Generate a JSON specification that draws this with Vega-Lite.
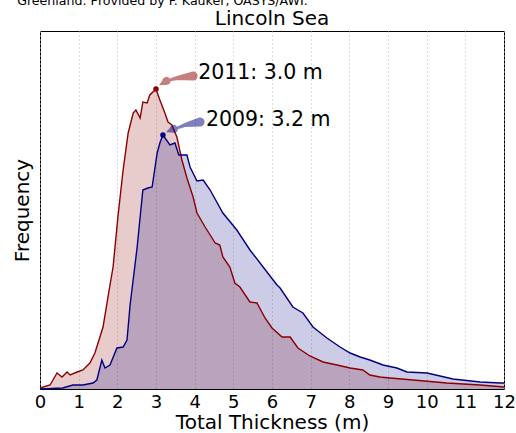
{
  "$schema": "https://vega.github.io/schema/vega-lite/v6.json",
  "width": 464,
  "height": 358,
  "autosize": "none",
  "padding": {"left": 40, "top": 31, "right": 12, "bottom": 44},
  "background": "white",
  "config": {
    "font": "DejaVu Sans",
    "view": {"stroke": "black", "strokeWidth": 1},
    "axis": {"labelOverlap": false, "labelFlush": false, "labelSeparation": 0}
  },
  "datasets": {
    "dist": [
      {"year": "2011", "thickness": 0, "freq": 1},
      {"year": "2011", "thickness": 0.26, "freq": 4},
      {"year": "2011", "thickness": 0.44, "freq": 16},
      {"year": "2011", "thickness": 0.57, "freq": 12},
      {"year": "2011", "thickness": 0.70, "freq": 17},
      {"year": "2011", "thickness": 0.78, "freq": 14},
      {"year": "2011", "thickness": 0.96, "freq": 17},
      {"year": "2011", "thickness": 1.11, "freq": 19},
      {"year": "2011", "thickness": 1.29, "freq": 26},
      {"year": "2011", "thickness": 1.42, "freq": 36},
      {"year": "2011", "thickness": 1.55, "freq": 52},
      {"year": "2011", "thickness": 1.63, "freq": 62},
      {"year": "2011", "thickness": 1.81, "freq": 104},
      {"year": "2011", "thickness": 1.89, "freq": 122},
      {"year": "2011", "thickness": 2.02, "freq": 174},
      {"year": "2011", "thickness": 2.15, "freq": 219},
      {"year": "2011", "thickness": 2.28, "freq": 256},
      {"year": "2011", "thickness": 2.41, "freq": 276},
      {"year": "2011", "thickness": 2.48, "freq": 279},
      {"year": "2011", "thickness": 2.59, "freq": 271},
      {"year": "2011", "thickness": 2.66, "freq": 287},
      {"year": "2011", "thickness": 2.77, "freq": 286},
      {"year": "2011", "thickness": 2.84, "freq": 294},
      {"year": "2011", "thickness": 3.0, "freq": 300},
      {"year": "2011", "thickness": 3.10, "freq": 289},
      {"year": "2011", "thickness": 3.23, "freq": 276},
      {"year": "2011", "thickness": 3.31, "freq": 267},
      {"year": "2011", "thickness": 3.41, "freq": 264},
      {"year": "2011", "thickness": 3.54, "freq": 252},
      {"year": "2011", "thickness": 3.67, "freq": 229},
      {"year": "2011", "thickness": 3.80, "freq": 211},
      {"year": "2011", "thickness": 3.96, "freq": 192},
      {"year": "2011", "thickness": 4.06, "freq": 176},
      {"year": "2011", "thickness": 4.27, "freq": 162},
      {"year": "2011", "thickness": 4.45, "freq": 151},
      {"year": "2011", "thickness": 4.53, "freq": 146},
      {"year": "2011", "thickness": 4.65, "freq": 144},
      {"year": "2011", "thickness": 4.73, "freq": 132},
      {"year": "2011", "thickness": 4.91, "freq": 122},
      {"year": "2011", "thickness": 5.04, "freq": 106},
      {"year": "2011", "thickness": 5.17, "freq": 102},
      {"year": "2011", "thickness": 5.43, "freq": 87},
      {"year": "2011", "thickness": 5.61, "freq": 86},
      {"year": "2011", "thickness": 5.82, "freq": 71},
      {"year": "2011", "thickness": 6.00, "freq": 61},
      {"year": "2011", "thickness": 6.26, "freq": 52},
      {"year": "2011", "thickness": 6.47, "freq": 52},
      {"year": "2011", "thickness": 6.67, "freq": 41},
      {"year": "2011", "thickness": 6.98, "freq": 33},
      {"year": "2011", "thickness": 7.32, "freq": 27},
      {"year": "2011", "thickness": 7.68, "freq": 24},
      {"year": "2011", "thickness": 8.02, "freq": 21},
      {"year": "2011", "thickness": 8.35, "freq": 19},
      {"year": "2011", "thickness": 8.53, "freq": 14},
      {"year": "2011", "thickness": 8.79, "freq": 12},
      {"year": "2011", "thickness": 9.05, "freq": 11},
      {"year": "2011", "thickness": 9.65, "freq": 9},
      {"year": "2011", "thickness": 10.52, "freq": 6},
      {"year": "2011", "thickness": 11.38, "freq": 4},
      {"year": "2011", "thickness": 12.0, "freq": 2},
      {"year": "2009", "thickness": 0, "freq": 0},
      {"year": "2009", "thickness": 0.59, "freq": 1},
      {"year": "2009", "thickness": 0.85, "freq": 4},
      {"year": "2009", "thickness": 1.11, "freq": 4},
      {"year": "2009", "thickness": 1.37, "freq": 6},
      {"year": "2009", "thickness": 1.47, "freq": 9},
      {"year": "2009", "thickness": 1.60, "freq": 29},
      {"year": "2009", "thickness": 1.68, "freq": 21},
      {"year": "2009", "thickness": 1.81, "freq": 24},
      {"year": "2009", "thickness": 1.99, "freq": 41},
      {"year": "2009", "thickness": 2.15, "freq": 42},
      {"year": "2009", "thickness": 2.25, "freq": 49},
      {"year": "2009", "thickness": 2.33, "freq": 84},
      {"year": "2009", "thickness": 2.51, "freq": 141},
      {"year": "2009", "thickness": 2.66, "freq": 199},
      {"year": "2009", "thickness": 2.79, "freq": 201},
      {"year": "2009", "thickness": 2.90, "freq": 202},
      {"year": "2009", "thickness": 3.03, "freq": 236},
      {"year": "2009", "thickness": 3.10, "freq": 246},
      {"year": "2009", "thickness": 3.18, "freq": 254},
      {"year": "2009", "thickness": 3.36, "freq": 244},
      {"year": "2009", "thickness": 3.49, "freq": 246},
      {"year": "2009", "thickness": 3.59, "freq": 234},
      {"year": "2009", "thickness": 3.80, "freq": 234},
      {"year": "2009", "thickness": 3.88, "freq": 222},
      {"year": "2009", "thickness": 4.06, "freq": 208},
      {"year": "2009", "thickness": 4.22, "freq": 209},
      {"year": "2009", "thickness": 4.40, "freq": 199},
      {"year": "2009", "thickness": 4.73, "freq": 176},
      {"year": "2009", "thickness": 5.09, "freq": 159},
      {"year": "2009", "thickness": 5.43, "freq": 139},
      {"year": "2009", "thickness": 5.77, "freq": 122},
      {"year": "2009", "thickness": 6.13, "freq": 104},
      {"year": "2009", "thickness": 6.21, "freq": 101},
      {"year": "2009", "thickness": 6.54, "freq": 82},
      {"year": "2009", "thickness": 6.80, "freq": 76},
      {"year": "2009", "thickness": 7.06, "freq": 62},
      {"year": "2009", "thickness": 7.42, "freq": 51},
      {"year": "2009", "thickness": 7.76, "freq": 42},
      {"year": "2009", "thickness": 8.02, "freq": 36},
      {"year": "2009", "thickness": 8.28, "freq": 32},
      {"year": "2009", "thickness": 8.53, "freq": 29},
      {"year": "2009", "thickness": 8.87, "freq": 24},
      {"year": "2009", "thickness": 9.23, "freq": 21},
      {"year": "2009", "thickness": 9.49, "freq": 17},
      {"year": "2009", "thickness": 10.01, "freq": 16},
      {"year": "2009", "thickness": 10.68, "freq": 10},
      {"year": "2009", "thickness": 11.38, "freq": 7},
      {"year": "2009", "thickness": 11.90, "freq": 6},
      {"year": "2009", "thickness": 12.0, "freq": 6}
    ],
    "arrows": [
      {"year": "2011", "seq": 1, "part": "tail", "thickness": 3.96, "freq": 313},
      {"year": "2011", "seq": 2, "part": "mid", "thickness": 3.55, "freq": 311},
      {"year": "2011", "seq": 3, "part": "neck", "thickness": 3.35, "freq": 309},
      {"year": "2011", "seq": 4, "part": "base", "thickness": 3.27, "freq": 308},
      {"year": "2011", "seq": 5, "part": "tip", "thickness": 3.09, "freq": 304},
      {"year": "2009", "seq": 1, "part": "tail", "thickness": 4.14, "freq": 267},
      {"year": "2009", "seq": 2, "part": "mid", "thickness": 3.75, "freq": 264},
      {"year": "2009", "seq": 3, "part": "neck", "thickness": 3.55, "freq": 261},
      {"year": "2009", "seq": 4, "part": "base", "thickness": 3.46, "freq": 260},
      {"year": "2009", "seq": 5, "part": "tip", "thickness": 3.27, "freq": 257}
    ],
    "peaks": [
      {"year": "2011", "thickness": 3.0, "freq": 300},
      {"year": "2009", "thickness": 3.18, "freq": 254}
    ],
    "labels": [
      {"text": "2011: 3.0 m", "kind": "note", "thickness": 4.09, "freq": 310},
      {"text": "2009: 3.2 m", "kind": "note", "thickness": 4.29, "freq": 263},
      {"text": "Greenland. Provided by F. Kauker, OASYS/AWI.", "kind": "caption", "thickness": -0.59, "freq": 384.5},
      {"text": "Lincoln Sea", "kind": "title", "thickness": 6.0, "freq": 364}
    ]
  },
  "encoding": {
    "x": {"field": "thickness", "type": "quantitative",
      "scale": {"domain": [0, 12], "nice": false, "zero": false},
      "axis": {"values": [0,1,2,3,4,5,6,7,8,9,10,11,12], "title": "Total Thickness (m)",
        "labelFontSize": 18, "labelColor": "black", "labelFont": "DejaVu Sans", "labelPadding": 4,
        "ticks": false, "domain": false, "labelFlush": false, "labelOverlap": false, "labelSeparation": 0,
        "titleFontSize": 20, "titleFontWeight": "normal", "titleColor": "black", "titleFont": "DejaVu Sans", "titlePadding": 1,
        "grid": true, "gridColor": "#b8b8b8", "gridDash": [1, 3], "gridWidth": 1}},
    "y": {"field": "freq", "type": "quantitative",
      "scale": {"domain": [0, 358], "nice": false},
      "axis": {"title": "Frequency", "labels": false, "ticks": false, "domain": false, "grid": false,
        "titleFontSize": 20, "titleFontWeight": "normal", "titleColor": "black", "titleFont": "DejaVu Sans", "titlePadding": 8}}
  },
  "layer": [
    {
      "data": {"name": "dist"},
      "mark": {"type": "area", "opacity": 0.2, "interpolate": "linear"},
      "encoding": {
        "y": {"field": "freq", "type": "quantitative", "stack": null},
        "color": {"field": "year", "type": "nominal", "scale": {"domain": ["2009", "2011"], "range": ["#000080", "#8b0000"]}, "legend": null},
        "order": {"field": "year", "type": "nominal"}
      }
    },
    {
      "data": {"name": "dist"},
      "mark": {"type": "line", "strokeWidth": 1.4},
      "encoding": {
        "color": {"field": "year", "type": "nominal", "scale": {"domain": ["2009", "2011"], "range": ["#2a2aa8", "#9a0f0f"]}, "legend": null}
      }
    },
    {
      "data": {"name": "arrows"},
      "mark": {"type": "trail", "opacity": 0.5},
      "encoding": {
        "order": {"field": "seq", "type": "quantitative"},
        "detail": {"field": "year"},
        "color": {"field": "year", "type": "nominal", "scale": {"domain": ["2009", "2011"], "range": ["#000080", "#8b0000"]}, "legend": null},
        "size": {"field": "part", "type": "nominal", "scale": {"type": "ordinal", "domain": ["tail", "mid", "neck", "base", "tip"], "range": [9, 4, 2.5, 8, 0.5]}, "legend": null}
      }
    },
    {
      "data": {"name": "peaks"},
      "mark": {"type": "point", "filled": true, "opacity": 1, "size": 30},
      "encoding": {
        "color": {"field": "year", "type": "nominal", "scale": {"domain": ["2009", "2011"], "range": ["#000080", "#8b0000"]}, "legend": null}
      }
    },
    {
      "data": {"name": "labels"},
      "transform": [{"filter": "datum.kind == 'note'"}],
      "mark": {"type": "text", "align": "left", "baseline": "alphabetic", "fontSize": 20.5, "font": "DejaVu Sans", "color": "black"},
      "encoding": {"text": {"field": "text"}}
    },
    {
      "data": {"name": "labels"},
      "transform": [{"filter": "datum.kind == 'caption'"}],
      "mark": {"type": "text", "align": "left", "baseline": "alphabetic", "fontSize": 12.6, "font": "DejaVu Sans", "color": "black", "clip": false},
      "encoding": {"text": {"field": "text"}}
    },
    {
      "data": {"name": "labels"},
      "transform": [{"filter": "datum.kind == 'title'"}],
      "mark": {"type": "text", "align": "center", "baseline": "alphabetic", "fontSize": 20, "font": "DejaVu Sans", "color": "black", "clip": false},
      "encoding": {"text": {"field": "text"}}
    }
  ]
}
